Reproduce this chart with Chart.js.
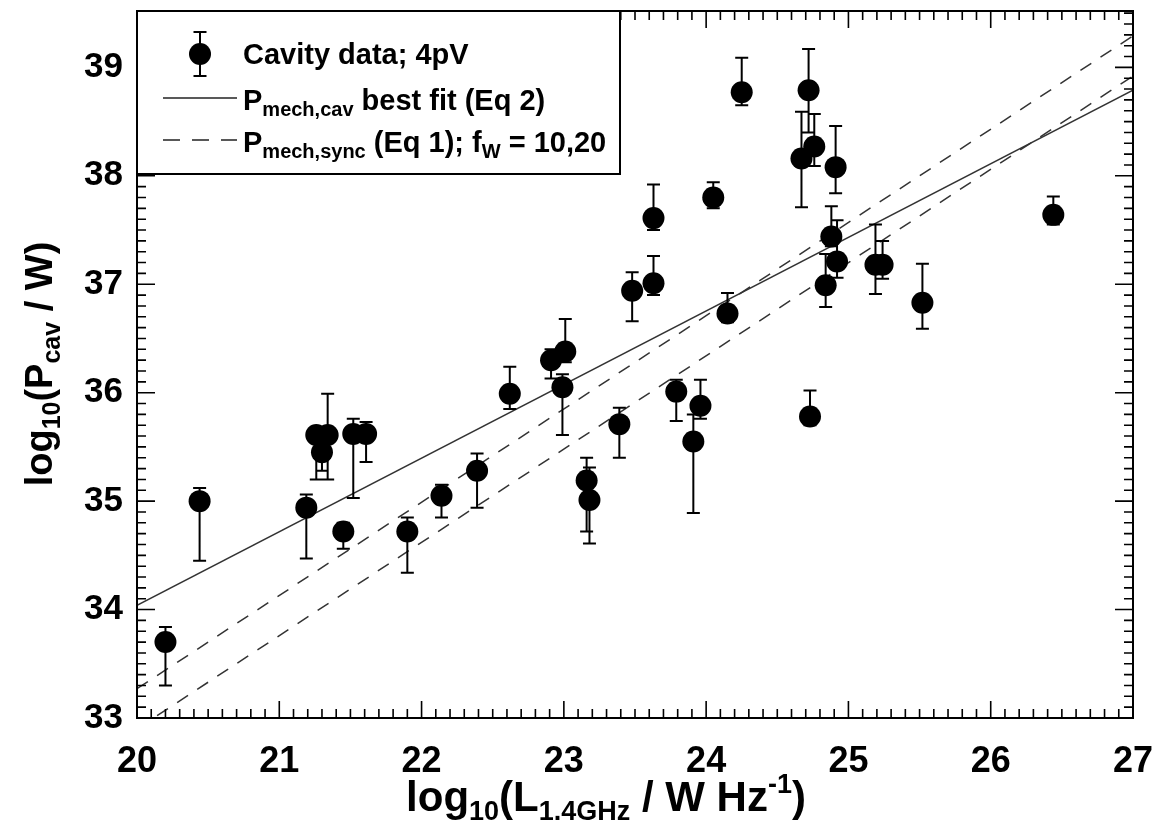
<!DOCTYPE html>
<html>
<head>
<meta charset="UTF-8">
<title>Cavity power vs 1.4 GHz luminosity</title>
<script src="https://cdn.jsdelivr.net/npm/chart.js"></script>
<style>
  html, body { margin: 0; padding: 0; background: #fff; }
  #wrap { width: 1168px; height: 821px; }
</style>
</head>
<body>
<div id="wrap"><canvas id="cavChart" width="1168" height="821"></canvas></div>
<script>
// cavity sample: log10 L(1.4GHz) and log10 P(cav), with error bar ends
var logL  = [20.20, 20.44, 21.19, 21.26, 21.34, 21.30, 21.45, 21.52, 21.61, 21.90,
             22.14, 22.39, 22.62, 22.91, 23.01, 22.99, 23.16, 23.18, 23.39, 23.48,
             23.63, 23.63, 23.79, 23.96, 23.91, 24.05, 24.15, 24.25, 24.73, 24.72,
             24.67, 24.76, 24.91, 24.88, 24.92, 24.84, 25.19, 25.24, 25.52, 26.44];
var logP  = [33.70, 35.00, 34.94, 35.61, 35.61, 35.45, 34.72, 35.62, 35.62, 34.72,
             35.05, 35.28, 35.99, 36.30, 36.38, 36.05, 35.19, 35.01, 35.71, 36.94,
             37.61, 37.01, 36.01, 35.88, 35.55, 37.80, 36.73, 38.77, 35.78, 38.79,
             38.16, 38.27, 38.08, 37.44, 37.21, 36.99, 37.18, 37.18, 36.83, 37.64];
var errHi = [33.84, 35.12, 35.06, 35.68, 35.99, 35.55, 34.80, 35.76, 35.73, 34.85,
             35.15, 35.44, 36.24, 36.40, 36.68, 36.17, 35.40, 35.31, 35.86, 37.11,
             37.92, 37.26, 36.12, 36.12, 35.80, 37.94, 36.92, 39.09, 36.02, 39.17,
             38.59, 38.57, 38.46, 37.72, 37.59, 37.28, 37.55, 37.40, 37.19, 37.81];
var errLo = [33.30, 34.45, 34.47, 35.20, 35.20, 35.28, 34.56, 35.03, 35.36, 34.34,
             34.85, 34.94, 35.85, 36.13, 36.28, 35.61, 34.72, 34.61, 35.40, 36.66,
             37.50, 36.90, 35.74, 35.76, 34.89, 37.70, 36.65, 38.65, 35.70, 38.40,
             37.71, 38.09, 37.84, 37.35, 37.06, 36.79, 36.91, 37.05, 36.59, 37.55];

// relations, given at the two ends of the x range
var relX      = [20, 27];
var fitY      = [34.04, 38.79];   // Pmech,cav best fit (Eq 2)
var syncFw20Y = [33.27, 39.29];   // Pmech,sync (Eq 1), fW = 20
var syncFw10Y = [32.90, 38.92];   // Pmech,sync (Eq 1), fW = 10

var xTicks = [20, 21, 22, 23, 24, 25, 26, 27];
var yTicks = [33, 34, 35, 36, 37, 38, 39];

var FAMILY = '"Liberation Sans", Arial, sans-serif';
function fontStr(size) { return 'bold ' + size + 'px ' + FAMILY; }

function pts(xs, ys) {
    return xs.map(function (x, i) { return { x: x, y: ys[i] }; });
}

// text built from plain / sub / sup runs; returns total width
function drawRuns(ctx, runs, x, y, size, subSize, measureOnly) {
    var w = 0;
    runs.forEach(function (r) {
        var s = r[1] ? subSize : size;
        var dy = 0;
        if (r[1] === 'sub') dy = size * 0.22;
        if (r[1] === 'sup') dy = -size * 0.42;
        ctx.font = fontStr(s);
        if (!measureOnly) ctx.fillText(r[0], x + w, y + dy);
        w += ctx.measureText(r[0]).width;
    });
    return w;
}

function errorBar(ctx, x, yTop, yBot, half) {
    ctx.moveTo(x, yTop); ctx.lineTo(x, yBot);
    ctx.moveTo(x - half, yTop); ctx.lineTo(x + half, yTop);
    ctx.moveTo(x - half, yBot); ctx.lineTo(x + half, yBot);
}

// box around the plot with inward ticks on all four sides
var framePlugin = {
    id: 'frame',
    afterDatasetsDraw: function (chart) {
        var a = chart.chartArea, ctx = chart.ctx;
        var xs = chart.scales.x, ys = chart.scales.y;
        var i, p, len;
        ctx.save();
        ctx.strokeStyle = '#000';
        ctx.lineWidth = 1.6;
        ctx.beginPath();
        for (i = Math.ceil(xs.min * 10); i <= Math.floor(xs.max * 10); i++) {
            p = xs.getPixelForValue(i / 10);
            len = i % 10 === 0 ? 17 : 9;
            ctx.moveTo(p, a.bottom); ctx.lineTo(p, a.bottom - len);
            ctx.moveTo(p, a.top); ctx.lineTo(p, a.top + len);
        }
        for (i = Math.ceil(ys.min * 10); i <= Math.floor(ys.max * 10); i++) {
            p = ys.getPixelForValue(i / 10);
            len = i % 10 === 0 ? 18 : 9;
            ctx.moveTo(a.left, p); ctx.lineTo(a.left + len, p);
            ctx.moveTo(a.right, p); ctx.lineTo(a.right - len, p);
        }
        ctx.stroke();
        ctx.lineWidth = 2;
        ctx.strokeRect(a.left, a.top, a.right - a.left, a.bottom - a.top);
        ctx.restore();
    }
};

// vertical error bars from errLo to errHi
var errorPlugin = {
    id: 'errbars',
    afterDatasetsDraw: function (chart) {
        var ctx = chart.ctx, xs = chart.scales.x, ys = chart.scales.y;
        ctx.save();
        ctx.strokeStyle = '#000';
        ctx.lineWidth = 2;
        ctx.beginPath();
        for (var i = 0; i < logL.length; i++) {
            errorBar(ctx, xs.getPixelForValue(logL[i]),
                ys.getPixelForValue(errHi[i]), ys.getPixelForValue(errLo[i]), 6.5);
        }
        ctx.stroke();
        ctx.restore();
    }
};

// legend box in the top-left corner and the two axis titles
var labelPlugin = {
    id: 'labels',
    afterDraw: function (chart) {
        var ctx = chart.ctx, a = chart.chartArea;
        ctx.save();
        ctx.fillStyle = '#000';
        ctx.strokeStyle = '#000';
        ctx.textBaseline = 'alphabetic';
        ctx.textAlign = 'left';

        // legend frame
        var lx = 620, ly = 174;
        ctx.fillStyle = '#fff';
        ctx.fillRect(a.left + 1, a.top + 1, lx - a.left - 1, ly - a.top - 1);
        ctx.fillStyle = '#000';
        ctx.lineWidth = 2;
        ctx.beginPath();
        ctx.moveTo(a.left, ly); ctx.lineTo(lx, ly); ctx.lineTo(lx, a.top);
        ctx.stroke();

        // row 1: marker with error bar
        ctx.beginPath();
        errorBar(ctx, 200, 32, 76, 6.5);
        ctx.stroke();
        ctx.beginPath();
        ctx.arc(200, 54, 11, 0, Math.PI * 2);
        ctx.fill();
        drawRuns(ctx, [['Cavity data; 4pV', '']], 243, 64, 29, 20);

        // row 2: solid line
        ctx.lineWidth = 1.5;
        ctx.strokeStyle = '#222';
        ctx.beginPath();
        ctx.moveTo(163, 98); ctx.lineTo(237, 98);
        ctx.stroke();
        drawRuns(ctx, [['P', ''], ['mech,cav', 'sub'], [' best fit (Eq 2)', '']], 243, 110, 29, 20);

        // row 3: dashed line
        ctx.setLineDash([17, 12]);
        ctx.beginPath();
        ctx.moveTo(163, 140); ctx.lineTo(237, 140);
        ctx.stroke();
        ctx.setLineDash([]);
        drawRuns(ctx, [['P', ''], ['mech,sync', 'sub'], [' (Eq 1); f', ''], ['W', 'sub'], [' = 10,20', '']],
            243, 152, 29, 20);

        // x title
        var xRuns = [['log', ''], ['10', 'sub'], ['(L', ''], ['1.4GHz', 'sub'], [' / W Hz', ''], ['-1', 'sup'], [')', '']];
        var w = drawRuns(ctx, xRuns, 0, 0, 42, 27, true);
        drawRuns(ctx, xRuns, 606 - w / 2, 811, 42, 27);

        // y title, rotated
        var yRuns = [['log', ''], ['10', 'sub'], ['(P', ''], ['cav', 'sub'], [' / W)', '']];
        w = drawRuns(ctx, yRuns, 0, 0, 38, 25, true);
        ctx.translate(52, 364);
        ctx.rotate(-Math.PI / 2);
        drawRuns(ctx, yRuns, -w / 2, 0, 38, 25);
        ctx.restore();
    }
};

var ctx = document.getElementById('cavChart').getContext('2d');
var cavChart = new Chart(ctx, {
    type: 'scatter',
    data: {
        datasets: [{
            label: 'Cavity data; 4pV',
            data: pts(logL, logP),
            pointRadius: 11,
            pointBackgroundColor: '#000',
            pointBorderColor: '#000',
            pointBorderWidth: 0
        }, {
            label: 'Pmech,cav best fit (Eq 2)',
            data: pts(relX, fitY),
            showLine: true,
            pointRadius: 0,
            borderColor: '#333',
            borderWidth: 1.5
        }, {
            label: 'Pmech,sync fW = 20',
            data: pts(relX, syncFw20Y),
            showLine: true,
            pointRadius: 0,
            borderColor: '#333',
            borderWidth: 1.5,
            borderDash: [13, 11]
        }, {
            label: 'Pmech,sync fW = 10',
            data: pts(relX, syncFw10Y),
            showLine: true,
            pointRadius: 0,
            borderColor: '#333',
            borderWidth: 1.5,
            borderDash: [13, 11]
        }]
    },
    options: {
        responsive: false,
        animation: false,
        layout: { autoPadding: false, padding: { top: 11, right: 35, left: 0, bottom: 0 } },
        plugins: {
            legend: { display: false },
            tooltip: { enabled: false }
        },
        scales: {
            x: {
                type: 'linear',
                min: 20,
                max: 27,
                grid: { display: false, drawTicks: false },
                border: { display: false },
                ticks: { color: '#000', font: { family: FAMILY, size: 36, weight: 'bold' }, padding: 22 },
                afterBuildTicks: function (s) { s.ticks = xTicks.map(function (v) { return { value: v }; }); },
                afterFit: function (s) {
                    s.height = 103;
                    s.paddingLeft = 0;
                    s.paddingRight = 0;
                }
            },
            y: {
                type: 'linear',
                min: 33,
                max: 39.52,
                grid: { display: false, drawTicks: false },
                border: { display: false },
                ticks: { color: '#000', font: { family: FAMILY, size: 35, weight: 'bold' }, padding: 14 },
                afterBuildTicks: function (s) { s.ticks = yTicks.map(function (v) { return { value: v }; }); },
                afterFit: function (s) {
                    s.width = 137;
                    s.paddingTop = 0;
                    s.paddingBottom = 0;
                }
            }
        }
    },
    plugins: [framePlugin, errorPlugin, labelPlugin]
});
</script>
</body>
</html>
